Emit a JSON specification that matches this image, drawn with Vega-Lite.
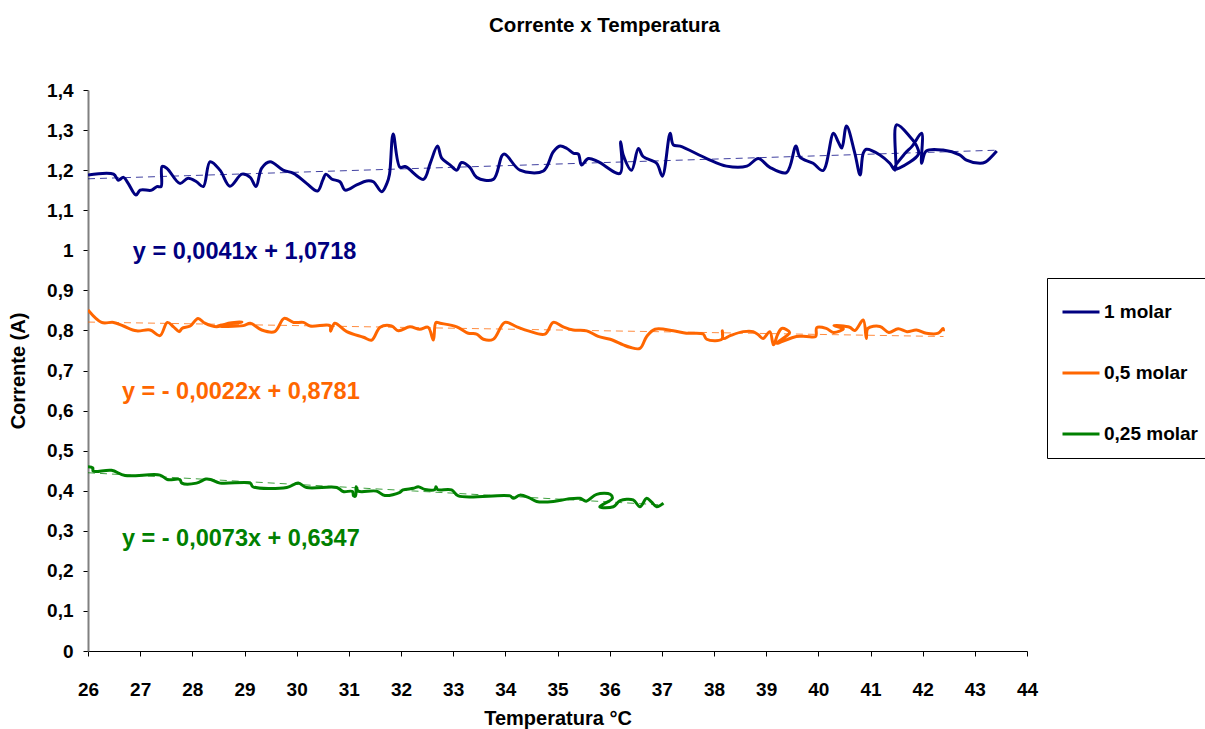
{
  "$schema": "https://vega.github.io/schema/vega-lite/v6.json",
  "autosize": {"type": "none"},
  "width": 939,
  "height": 561,
  "padding": {"left": 88, "top": 90, "right": 178, "bottom": 78},
  "background": "white",
  "title": {"text": "Corrente x Temperatura", "fontSize": 20.5, "font": "Liberation Sans", "fontWeight": "bold", "color": "#000", "anchor": "middle", "frame": "group", "dx": 47, "offset": 45},
  "config": {
    "view": {"stroke": null},
    "font": "Liberation Sans",
    "axis": {"grid": false, "labelFont": "Liberation Sans", "labelFontSize": 19, "labelFontWeight": "bold", "labelColor": "#000", "titleFont": "Liberation Sans", "titleFontSize": 20, "titleFontWeight": "bold", "titleColor": "#000", "tickColor": "#000", "tickSize": 5, "labelFlush": false},
    "legend": {"orient": "none", "legendX": 959, "legendY": 188, "symbolType": "stroke", "symbolSize": 1369, "symbolStrokeWidth": 3, "symbolOpacity": 1, "labelFont": "Liberation Sans", "labelFontSize": 19, "labelFontWeight": "bold", "labelColor": "#000", "strokeColor": "#000", "fillColor": "#fff", "padding": 14, "rowPadding": 31, "labelOffset": 3, "cornerRadius": 0}
  },
  "datasets": {
    "series": [
      {"s": "1 molar", "i": 1, "t": 26.0, "c": 1.188}, {"s": "1 molar", "i": 2, "t": 26.49, "c": 1.19}, {"s": "1 molar", "i": 3, "t": 26.58, "c": 1.175}, {"s": "1 molar", "i": 4, "t": 26.68, "c": 1.182}, {"s": "1 molar", "i": 5, "t": 26.77, "c": 1.167}, {"s": "1 molar", "i": 6, "t": 26.92, "c": 1.138}, {"s": "1 molar", "i": 7, "t": 27.0, "c": 1.15}, {"s": "1 molar", "i": 8, "t": 27.22, "c": 1.15}, {"s": "1 molar", "i": 9, "t": 27.32, "c": 1.159}, {"s": "1 molar", "i": 10, "t": 27.4, "c": 1.159}, {"s": "1 molar", "i": 11, "t": 27.42, "c": 1.209}, {"s": "1 molar", "i": 12, "t": 27.51, "c": 1.205}, {"s": "1 molar", "i": 13, "t": 27.76, "c": 1.167}, {"s": "1 molar", "i": 14, "t": 27.92, "c": 1.18}, {"s": "1 molar", "i": 15, "t": 28.08, "c": 1.171}, {"s": "1 molar", "i": 16, "t": 28.21, "c": 1.159}, {"s": "1 molar", "i": 17, "t": 28.34, "c": 1.221}, {"s": "1 molar", "i": 18, "t": 28.53, "c": 1.2}, {"s": "1 molar", "i": 19, "t": 28.72, "c": 1.16}, {"s": "1 molar", "i": 20, "t": 28.95, "c": 1.19}, {"s": "1 molar", "i": 21, "t": 29.11, "c": 1.182}, {"s": "1 molar", "i": 22, "t": 29.22, "c": 1.159}, {"s": "1 molar", "i": 23, "t": 29.33, "c": 1.205}, {"s": "1 molar", "i": 24, "t": 29.49, "c": 1.221}, {"s": "1 molar", "i": 25, "t": 29.74, "c": 1.2}, {"s": "1 molar", "i": 26, "t": 29.94, "c": 1.192}, {"s": "1 molar", "i": 27, "t": 30.19, "c": 1.167}, {"s": "1 molar", "i": 28, "t": 30.4, "c": 1.148}, {"s": "1 molar", "i": 29, "t": 30.5, "c": 1.175}, {"s": "1 molar", "i": 30, "t": 30.56, "c": 1.19}, {"s": "1 molar", "i": 31, "t": 30.67, "c": 1.178}, {"s": "1 molar", "i": 32, "t": 30.83, "c": 1.171}, {"s": "1 molar", "i": 33, "t": 30.93, "c": 1.15}, {"s": "1 molar", "i": 34, "t": 31.15, "c": 1.163}, {"s": "1 molar", "i": 35, "t": 31.34, "c": 1.173}, {"s": "1 molar", "i": 36, "t": 31.47, "c": 1.171}, {"s": "1 molar", "i": 37, "t": 31.63, "c": 1.146}, {"s": "1 molar", "i": 38, "t": 31.73, "c": 1.167}, {"s": "1 molar", "i": 39, "t": 31.78, "c": 1.19}, {"s": "1 molar", "i": 40, "t": 31.85, "c": 1.29}, {"s": "1 molar", "i": 41, "t": 31.98, "c": 1.207}, {"s": "1 molar", "i": 42, "t": 32.08, "c": 1.209}, {"s": "1 molar", "i": 43, "t": 32.43, "c": 1.177}, {"s": "1 molar", "i": 44, "t": 32.56, "c": 1.217}, {"s": "1 molar", "i": 45, "t": 32.7, "c": 1.26}, {"s": "1 molar", "i": 46, "t": 32.78, "c": 1.23}, {"s": "1 molar", "i": 47, "t": 32.94, "c": 1.213}, {"s": "1 molar", "i": 48, "t": 33.07, "c": 1.2}, {"s": "1 molar", "i": 49, "t": 33.16, "c": 1.219}, {"s": "1 molar", "i": 50, "t": 33.32, "c": 1.207}, {"s": "1 molar", "i": 51, "t": 33.45, "c": 1.182}, {"s": "1 molar", "i": 52, "t": 33.77, "c": 1.177}, {"s": "1 molar", "i": 53, "t": 33.97, "c": 1.24}, {"s": "1 molar", "i": 54, "t": 34.28, "c": 1.2}, {"s": "1 molar", "i": 55, "t": 34.73, "c": 1.198}, {"s": "1 molar", "i": 56, "t": 34.92, "c": 1.246}, {"s": "1 molar", "i": 57, "t": 35.05, "c": 1.26}, {"s": "1 molar", "i": 58, "t": 35.18, "c": 1.254}, {"s": "1 molar", "i": 59, "t": 35.31, "c": 1.242}, {"s": "1 molar", "i": 60, "t": 35.4, "c": 1.24}, {"s": "1 molar", "i": 61, "t": 35.46, "c": 1.213}, {"s": "1 molar", "i": 62, "t": 35.59, "c": 1.229}, {"s": "1 molar", "i": 63, "t": 35.78, "c": 1.221}, {"s": "1 molar", "i": 64, "t": 36.2, "c": 1.192}, {"s": "1 molar", "i": 65, "t": 36.21, "c": 1.271}, {"s": "1 molar", "i": 66, "t": 36.26, "c": 1.238}, {"s": "1 molar", "i": 67, "t": 36.42, "c": 1.2}, {"s": "1 molar", "i": 68, "t": 36.55, "c": 1.254}, {"s": "1 molar", "i": 69, "t": 36.64, "c": 1.234}, {"s": "1 molar", "i": 70, "t": 36.9, "c": 1.217}, {"s": "1 molar", "i": 71, "t": 37.01, "c": 1.185}, {"s": "1 molar", "i": 72, "t": 37.16, "c": 1.292}, {"s": "1 molar", "i": 73, "t": 37.22, "c": 1.263}, {"s": "1 molar", "i": 74, "t": 37.35, "c": 1.26}, {"s": "1 molar", "i": 75, "t": 37.86, "c": 1.229}, {"s": "1 molar", "i": 76, "t": 38.24, "c": 1.21}, {"s": "1 molar", "i": 77, "t": 38.63, "c": 1.21}, {"s": "1 molar", "i": 78, "t": 38.85, "c": 1.229}, {"s": "1 molar", "i": 79, "t": 39.07, "c": 1.207}, {"s": "1 molar", "i": 80, "t": 39.39, "c": 1.194}, {"s": "1 molar", "i": 81, "t": 39.57, "c": 1.26}, {"s": "1 molar", "i": 82, "t": 39.65, "c": 1.232}, {"s": "1 molar", "i": 83, "t": 39.9, "c": 1.217}, {"s": "1 molar", "i": 84, "t": 40.09, "c": 1.199}, {"s": "1 molar", "i": 85, "t": 40.29, "c": 1.292}, {"s": "1 molar", "i": 86, "t": 40.38, "c": 1.271}, {"s": "1 molar", "i": 87, "t": 40.45, "c": 1.255}, {"s": "1 molar", "i": 88, "t": 40.54, "c": 1.31}, {"s": "1 molar", "i": 89, "t": 40.7, "c": 1.242}, {"s": "1 molar", "i": 90, "t": 40.8, "c": 1.188}, {"s": "1 molar", "i": 91, "t": 40.86, "c": 1.242}, {"s": "1 molar", "i": 92, "t": 40.92, "c": 1.252}, {"s": "1 molar", "i": 93, "t": 41.18, "c": 1.238}, {"s": "1 molar", "i": 94, "t": 41.37, "c": 1.217}, {"s": "1 molar", "i": 95, "t": 41.47, "c": 1.2}, {"s": "1 molar", "i": 96, "t": 41.5, "c": 1.313}, {"s": "1 molar", "i": 97, "t": 41.76, "c": 1.283}, {"s": "1 molar", "i": 98, "t": 41.89, "c": 1.259}, {"s": "1 molar", "i": 99, "t": 41.92, "c": 1.24}, {"s": "1 molar", "i": 100, "t": 41.55, "c": 1.205}, {"s": "1 molar", "i": 101, "t": 41.45, "c": 1.203}, {"s": "1 molar", "i": 102, "t": 41.65, "c": 1.24}, {"s": "1 molar", "i": 103, "t": 41.8, "c": 1.26}, {"s": "1 molar", "i": 104, "t": 41.98, "c": 1.292}, {"s": "1 molar", "i": 105, "t": 41.98, "c": 1.217}, {"s": "1 molar", "i": 106, "t": 42.07, "c": 1.248}, {"s": "1 molar", "i": 107, "t": 42.39, "c": 1.25}, {"s": "1 molar", "i": 108, "t": 42.71, "c": 1.238}, {"s": "1 molar", "i": 109, "t": 42.84, "c": 1.225}, {"s": "1 molar", "i": 110, "t": 43.1, "c": 1.217}, {"s": "1 molar", "i": 111, "t": 43.2, "c": 1.22}, {"s": "1 molar", "i": 112, "t": 43.42, "c": 1.248},
      {"s": "0,5 molar", "i": 1, "t": 26.0, "c": 0.851}, {"s": "0,5 molar", "i": 2, "t": 26.26, "c": 0.82}, {"s": "0,5 molar", "i": 3, "t": 26.49, "c": 0.82}, {"s": "0,5 molar", "i": 4, "t": 26.68, "c": 0.811}, {"s": "0,5 molar", "i": 5, "t": 26.93, "c": 0.799}, {"s": "0,5 molar", "i": 6, "t": 27.19, "c": 0.801}, {"s": "0,5 molar", "i": 7, "t": 27.38, "c": 0.787}, {"s": "0,5 molar", "i": 8, "t": 27.52, "c": 0.82}, {"s": "0,5 molar", "i": 9, "t": 27.64, "c": 0.809}, {"s": "0,5 molar", "i": 10, "t": 27.75, "c": 0.797}, {"s": "0,5 molar", "i": 11, "t": 27.8, "c": 0.805}, {"s": "0,5 molar", "i": 12, "t": 27.96, "c": 0.811}, {"s": "0,5 molar", "i": 13, "t": 28.11, "c": 0.83}, {"s": "0,5 molar", "i": 14, "t": 28.24, "c": 0.818}, {"s": "0,5 molar", "i": 15, "t": 28.47, "c": 0.809}, {"s": "0,5 molar", "i": 16, "t": 28.69, "c": 0.818}, {"s": "0,5 molar", "i": 17, "t": 28.95, "c": 0.821}, {"s": "0,5 molar", "i": 18, "t": 28.47, "c": 0.811}, {"s": "0,5 molar", "i": 19, "t": 28.98, "c": 0.812}, {"s": "0,5 molar", "i": 20, "t": 29.11, "c": 0.818}, {"s": "0,5 molar", "i": 21, "t": 29.33, "c": 0.801}, {"s": "0,5 molar", "i": 22, "t": 29.58, "c": 0.797}, {"s": "0,5 molar", "i": 23, "t": 29.76, "c": 0.83}, {"s": "0,5 molar", "i": 24, "t": 29.94, "c": 0.82}, {"s": "0,5 molar", "i": 25, "t": 30.13, "c": 0.82}, {"s": "0,5 molar", "i": 26, "t": 30.26, "c": 0.811}, {"s": "0,5 molar", "i": 27, "t": 30.64, "c": 0.812}, {"s": "0,5 molar", "i": 28, "t": 30.65, "c": 0.798}, {"s": "0,5 molar", "i": 29, "t": 30.73, "c": 0.818}, {"s": "0,5 molar", "i": 30, "t": 30.96, "c": 0.797}, {"s": "0,5 molar", "i": 31, "t": 31.28, "c": 0.783}, {"s": "0,5 molar", "i": 32, "t": 31.44, "c": 0.776}, {"s": "0,5 molar", "i": 33, "t": 31.6, "c": 0.808}, {"s": "0,5 molar", "i": 34, "t": 31.82, "c": 0.811}, {"s": "0,5 molar", "i": 35, "t": 31.95, "c": 0.799}, {"s": "0,5 molar", "i": 36, "t": 32.17, "c": 0.809}, {"s": "0,5 molar", "i": 37, "t": 32.36, "c": 0.803}, {"s": "0,5 molar", "i": 38, "t": 32.52, "c": 0.808}, {"s": "0,5 molar", "i": 39, "t": 32.62, "c": 0.776}, {"s": "0,5 molar", "i": 40, "t": 32.67, "c": 0.82}, {"s": "0,5 molar", "i": 41, "t": 32.75, "c": 0.818}, {"s": "0,5 molar", "i": 42, "t": 33.07, "c": 0.809}, {"s": "0,5 molar", "i": 43, "t": 33.29, "c": 0.793}, {"s": "0,5 molar", "i": 44, "t": 33.45, "c": 0.791}, {"s": "0,5 molar", "i": 45, "t": 33.58, "c": 0.778}, {"s": "0,5 molar", "i": 46, "t": 33.77, "c": 0.778}, {"s": "0,5 molar", "i": 47, "t": 33.99, "c": 0.82}, {"s": "0,5 molar", "i": 48, "t": 34.22, "c": 0.809}, {"s": "0,5 molar", "i": 49, "t": 34.44, "c": 0.799}, {"s": "0,5 molar", "i": 50, "t": 34.76, "c": 0.791}, {"s": "0,5 molar", "i": 51, "t": 34.92, "c": 0.82}, {"s": "0,5 molar", "i": 52, "t": 35.11, "c": 0.809}, {"s": "0,5 molar", "i": 53, "t": 35.3, "c": 0.801}, {"s": "0,5 molar", "i": 54, "t": 35.56, "c": 0.799}, {"s": "0,5 molar", "i": 55, "t": 35.78, "c": 0.785}, {"s": "0,5 molar", "i": 56, "t": 36.01, "c": 0.778}, {"s": "0,5 molar", "i": 57, "t": 36.26, "c": 0.764}, {"s": "0,5 molar", "i": 58, "t": 36.39, "c": 0.758}, {"s": "0,5 molar", "i": 59, "t": 36.58, "c": 0.755}, {"s": "0,5 molar", "i": 60, "t": 36.71, "c": 0.785}, {"s": "0,5 molar", "i": 61, "t": 36.87, "c": 0.803}, {"s": "0,5 molar", "i": 62, "t": 37.22, "c": 0.799}, {"s": "0,5 molar", "i": 63, "t": 37.47, "c": 0.793}, {"s": "0,5 molar", "i": 64, "t": 37.79, "c": 0.791}, {"s": "0,5 molar", "i": 65, "t": 37.86, "c": 0.778}, {"s": "0,5 molar", "i": 66, "t": 38.15, "c": 0.778}, {"s": "0,5 molar", "i": 67, "t": 38.16, "c": 0.799}, {"s": "0,5 molar", "i": 68, "t": 38.18, "c": 0.78}, {"s": "0,5 molar", "i": 69, "t": 38.31, "c": 0.787}, {"s": "0,5 molar", "i": 70, "t": 38.56, "c": 0.797}, {"s": "0,5 molar", "i": 71, "t": 38.75, "c": 0.797}, {"s": "0,5 molar", "i": 72, "t": 38.85, "c": 0.789}, {"s": "0,5 molar", "i": 73, "t": 38.94, "c": 0.78}, {"s": "0,5 molar", "i": 74, "t": 39.07, "c": 0.797}, {"s": "0,5 molar", "i": 75, "t": 39.14, "c": 0.764}, {"s": "0,5 molar", "i": 76, "t": 39.22, "c": 0.79}, {"s": "0,5 molar", "i": 77, "t": 39.3, "c": 0.805}, {"s": "0,5 molar", "i": 78, "t": 39.45, "c": 0.795}, {"s": "0,5 molar", "i": 79, "t": 39.2, "c": 0.768}, {"s": "0,5 molar", "i": 80, "t": 39.58, "c": 0.785}, {"s": "0,5 molar", "i": 81, "t": 39.77, "c": 0.785}, {"s": "0,5 molar", "i": 82, "t": 39.95, "c": 0.785}, {"s": "0,5 molar", "i": 83, "t": 39.97, "c": 0.807}, {"s": "0,5 molar", "i": 84, "t": 40.15, "c": 0.805}, {"s": "0,5 molar", "i": 85, "t": 40.29, "c": 0.795}, {"s": "0,5 molar", "i": 86, "t": 40.48, "c": 0.804}, {"s": "0,5 molar", "i": 87, "t": 40.3, "c": 0.812}, {"s": "0,5 molar", "i": 88, "t": 40.6, "c": 0.808}, {"s": "0,5 molar", "i": 89, "t": 40.7, "c": 0.8}, {"s": "0,5 molar", "i": 90, "t": 40.86, "c": 0.826}, {"s": "0,5 molar", "i": 91, "t": 40.92, "c": 0.78}, {"s": "0,5 molar", "i": 92, "t": 40.95, "c": 0.805}, {"s": "0,5 molar", "i": 93, "t": 41.18, "c": 0.81}, {"s": "0,5 molar", "i": 94, "t": 41.35, "c": 0.795}, {"s": "0,5 molar", "i": 95, "t": 41.53, "c": 0.804}, {"s": "0,5 molar", "i": 96, "t": 41.7, "c": 0.797}, {"s": "0,5 molar", "i": 97, "t": 41.88, "c": 0.801}, {"s": "0,5 molar", "i": 98, "t": 42.07, "c": 0.793}, {"s": "0,5 molar", "i": 99, "t": 42.3, "c": 0.793}, {"s": "0,5 molar", "i": 100, "t": 42.39, "c": 0.805}, {"s": "0,5 molar", "i": 101, "t": 42.4, "c": 0.798},
      {"s": "0,25 molar", "i": 1, "t": 26.0, "c": 0.46}, {"s": "0,25 molar", "i": 2, "t": 26.09, "c": 0.457}, {"s": "0,25 molar", "i": 3, "t": 26.1, "c": 0.449}, {"s": "0,25 molar", "i": 4, "t": 26.45, "c": 0.451}, {"s": "0,25 molar", "i": 5, "t": 26.71, "c": 0.438}, {"s": "0,25 molar", "i": 6, "t": 27.38, "c": 0.439}, {"s": "0,25 molar", "i": 7, "t": 27.52, "c": 0.428}, {"s": "0,25 molar", "i": 8, "t": 27.76, "c": 0.428}, {"s": "0,25 molar", "i": 9, "t": 27.8, "c": 0.419}, {"s": "0,25 molar", "i": 10, "t": 28.08, "c": 0.419}, {"s": "0,25 molar", "i": 11, "t": 28.26, "c": 0.429}, {"s": "0,25 molar", "i": 12, "t": 28.35, "c": 0.428}, {"s": "0,25 molar", "i": 13, "t": 28.53, "c": 0.419}, {"s": "0,25 molar", "i": 14, "t": 29.11, "c": 0.419}, {"s": "0,25 molar", "i": 15, "t": 29.16, "c": 0.41}, {"s": "0,25 molar", "i": 16, "t": 29.81, "c": 0.408}, {"s": "0,25 molar", "i": 17, "t": 30.03, "c": 0.419}, {"s": "0,25 molar", "i": 18, "t": 30.19, "c": 0.408}, {"s": "0,25 molar", "i": 19, "t": 30.77, "c": 0.408}, {"s": "0,25 molar", "i": 20, "t": 30.89, "c": 0.398}, {"s": "0,25 molar", "i": 21, "t": 31.07, "c": 0.398}, {"s": "0,25 molar", "i": 22, "t": 31.09, "c": 0.387}, {"s": "0,25 molar", "i": 23, "t": 31.13, "c": 0.387}, {"s": "0,25 molar", "i": 24, "t": 31.14, "c": 0.41}, {"s": "0,25 molar", "i": 25, "t": 31.18, "c": 0.399}, {"s": "0,25 molar", "i": 26, "t": 31.53, "c": 0.399}, {"s": "0,25 molar", "i": 27, "t": 31.69, "c": 0.388}, {"s": "0,25 molar", "i": 28, "t": 31.98, "c": 0.396}, {"s": "0,25 molar", "i": 29, "t": 32.04, "c": 0.402}, {"s": "0,25 molar", "i": 30, "t": 32.24, "c": 0.406}, {"s": "0,25 molar", "i": 31, "t": 32.33, "c": 0.41}, {"s": "0,25 molar", "i": 32, "t": 32.46, "c": 0.403}, {"s": "0,25 molar", "i": 33, "t": 32.65, "c": 0.403}, {"s": "0,25 molar", "i": 34, "t": 32.67, "c": 0.41}, {"s": "0,25 molar", "i": 35, "t": 32.7, "c": 0.403}, {"s": "0,25 molar", "i": 36, "t": 32.97, "c": 0.402}, {"s": "0,25 molar", "i": 37, "t": 33.1, "c": 0.387}, {"s": "0,25 molar", "i": 38, "t": 34.09, "c": 0.387}, {"s": "0,25 molar", "i": 39, "t": 34.15, "c": 0.381}, {"s": "0,25 molar", "i": 40, "t": 34.28, "c": 0.389}, {"s": "0,25 molar", "i": 41, "t": 34.45, "c": 0.383}, {"s": "0,25 molar", "i": 42, "t": 34.6, "c": 0.373}, {"s": "0,25 molar", "i": 43, "t": 34.92, "c": 0.373}, {"s": "0,25 molar", "i": 44, "t": 35.18, "c": 0.379}, {"s": "0,25 molar", "i": 45, "t": 35.43, "c": 0.381}, {"s": "0,25 molar", "i": 46, "t": 35.55, "c": 0.374}, {"s": "0,25 molar", "i": 47, "t": 35.75, "c": 0.391}, {"s": "0,25 molar", "i": 48, "t": 36.01, "c": 0.391}, {"s": "0,25 molar", "i": 49, "t": 36.05, "c": 0.381}, {"s": "0,25 molar", "i": 50, "t": 35.81, "c": 0.36}, {"s": "0,25 molar", "i": 51, "t": 36.07, "c": 0.36}, {"s": "0,25 molar", "i": 52, "t": 36.2, "c": 0.375}, {"s": "0,25 molar", "i": 53, "t": 36.45, "c": 0.377}, {"s": "0,25 molar", "i": 54, "t": 36.58, "c": 0.36}, {"s": "0,25 molar", "i": 55, "t": 36.71, "c": 0.381}, {"s": "0,25 molar", "i": 56, "t": 36.8, "c": 0.372}, {"s": "0,25 molar", "i": 57, "t": 36.9, "c": 0.36}, {"s": "0,25 molar", "i": 58, "t": 37.03, "c": 0.369}
    ],
    "trend": [
      {"s": "1 molar", "t": 26.0, "c": 1.1784}, {"s": "1 molar", "t": 43.42, "c": 1.2498},
      {"s": "0,5 molar", "t": 26.0, "c": 0.8209}, {"s": "0,5 molar", "t": 42.4, "c": 0.7848},
      {"s": "0,25 molar", "t": 26.0, "c": 0.4449}, {"s": "0,25 molar", "t": 37.03, "c": 0.3644}
    ],
    "eq": [
      {"s": "1 molar", "t": 26.86, "c": 0.996, "label": "y = 0,0041x + 1,0718"},
      {"s": "0,5 molar", "t": 26.65, "c": 0.646, "label": "y = - 0,0022x + 0,8781"},
      {"s": "0,25 molar", "t": 26.65, "c": 0.2795, "label": "y = - 0,0073x + 0,6347"}
    ]
  },
  "layer": [
    {
      "data": {"name": "series"},
      "mark": {"type": "line", "strokeWidth": 3, "interpolate": "catmull-rom", "clip": true},
      "encoding": {
        "x": {"field": "t", "type": "quantitative", "title": "Temperatura °C",
              "scale": {"domain": [26, 44], "nice": false, "zero": false},
              "axis": {"values": [26,27,28,29,30,31,32,33,34,35,36,37,38,39,40,41,42,43,44], "domainColor": "#000", "domainWidth": 1, "labelPadding": 24, "titlePadding": 9, "format": "d"}},
        "y": {"field": "c", "type": "quantitative", "title": "Corrente (A)",
              "scale": {"domain": [0, 1.4], "nice": false},
              "axis": {"values": [0,0.1,0.2,0.3,0.4,0.5,0.6,0.7,0.8,0.9,1,1.1,1.2,1.3,1.4], "domainColor": "#808080", "domainWidth": 2, "labelPadding": 10, "titlePadding": 18, "labelExpr": "replace(format(datum.value, '.1~f'), '.', ',')"}},
        "color": {"field": "s", "type": "nominal", "scale": {"domain": ["1 molar", "0,5 molar", "0,25 molar"], "range": ["#000080", "#FF6600", "#008000"]}, "legend": {"title": null}},
        "order": {"field": "i", "type": "quantitative"}
      }
    },
    {
      "data": {"name": "trend"},
      "mark": {"type": "line", "strokeWidth": 1, "strokeDash": [7, 5], "opacity": 0.75, "clip": true},
      "encoding": {
        "x": {"field": "t", "type": "quantitative"},
        "y": {"field": "c", "type": "quantitative"},
        "color": {"field": "s", "type": "nominal"}
      }
    },
    {
      "data": {"name": "eq"},
      "mark": {"type": "text", "align": "left", "baseline": "middle", "fontSize": 23.5, "fontWeight": "bold", "font": "Liberation Sans"},
      "encoding": {
        "x": {"field": "t", "type": "quantitative"},
        "y": {"field": "c", "type": "quantitative"},
        "text": {"field": "label"},
        "color": {"field": "s", "type": "nominal"}
      }
    }
  ]
}
